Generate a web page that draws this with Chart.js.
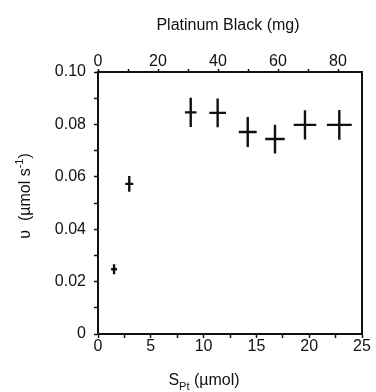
<!DOCTYPE html>
<html>
<head>
<meta charset="utf-8">
<script src="https://cdn.jsdelivr.net/npm/chart.js@4/dist/chart.umd.min.js"></script>
<style>
  body { margin: 0; background: #fff; }
  #wrap { width: 376px; height: 392px; position: relative; }
</style>
</head>
<body>
<div id="wrap"><canvas id="rate-chart"></canvas></div>
<script>
// data
const sPt = [1.52, 2.96, 8.78, 11.33, 14.18, 16.76, 19.6, 22.85];
const rate = [0.0247, 0.0573, 0.0846, 0.0844, 0.0771, 0.0744, 0.0798, 0.0798];
const sPtErr = [0.28, 0.38, 0.55, 0.79, 0.85, 0.92, 1.07, 1.18];
const rateErr = [0.0019, 0.003, 0.0056, 0.0055, 0.0057, 0.0055, 0.0056, 0.0057];

const xTicks = [0, 2.5, 5, 7.5, 10, 12.5, 15, 17.5, 20, 22.5, 25];
const xTickLabels = [0, 5, 10, 15, 20, 25];
const yTicks = [0, 0.01, 0.02, 0.03, 0.04, 0.05, 0.06, 0.07, 0.08, 0.09, 0.1];
const yTickLabels = ["0", "0.02", "0.04", "0.06", "0.08", "0.10"];
const mgTicks = [0, 10, 20, 30, 40, 50, 60, 70, 80];
const mgTickLabels = [0, 20, 40, 60, 80];
const mgMax = 88;

const FONT = "'Liberation Sans', Arial, sans-serif";
const INK = "#111";

// error bar crosses
const crossPlugin = {
  id: "crosses",
  afterDatasetsDraw(chart) {
    const { ctx, scales } = chart;
    ctx.save();
    ctx.strokeStyle = INK;
    ctx.lineWidth = 2.4;
    ctx.lineCap = "butt";
    sPt.forEach((x, i) => {
      const px = scales.x.getPixelForValue(x);
      const py = scales.y.getPixelForValue(rate[i]);
      const x0 = scales.x.getPixelForValue(x - sPtErr[i]);
      const x1 = scales.x.getPixelForValue(x + sPtErr[i]);
      const y0 = scales.y.getPixelForValue(rate[i] - rateErr[i]);
      const y1 = scales.y.getPixelForValue(rate[i] + rateErr[i]);
      ctx.beginPath();
      ctx.moveTo(x0, py);
      ctx.lineTo(x1, py);
      ctx.moveTo(px, y0);
      ctx.lineTo(px, y1);
      ctx.stroke();
    });
    ctx.restore();
  },
};
// end error bar crosses

// axis titles (subscripts and superscripts drawn by hand)
const titlePlugin = {
  id: "axisTitles",
  afterDraw(chart) {
    const { ctx, chartArea } = chart;
    ctx.save();
    ctx.fillStyle = INK;
    ctx.textBaseline = "alphabetic";

    // top title
    ctx.font = "16px " + FONT;
    ctx.textAlign = "center";
    ctx.fillText("Platinum Black (mg)", chartArea.left + 130, 30);

    // bottom title: S_Pt (µmol)
    const big = "16px " + FONT;
    const small = "11px " + FONT;
    ctx.font = big;
    const wS = ctx.measureText("S").width;
    const wRest = ctx.measureText(" (µmol)").width;
    ctx.font = small;
    const wSub = ctx.measureText("Pt").width;
    let x = chartArea.left + 106 - (wS + wSub + wRest) / 2;
    const base = 385;
    ctx.textAlign = "left";
    ctx.font = big;
    ctx.fillText("S", x, base);
    x += wS;
    ctx.font = small;
    ctx.fillText("Pt", x, base + 5);
    x += wSub;
    ctx.font = big;
    ctx.fillText(" (µmol)", x, base);

    // left title: υ (µmol s-1)
    ctx.translate(30, 196);
    ctx.rotate(-Math.PI / 2);
    ctx.font = big;
    const a = "υ  (µmol s";
    const wa = ctx.measureText(a).width;
    const wc = ctx.measureText(")").width;
    ctx.font = small;
    const wb = ctx.measureText("-1").width;
    let t = -(wa + wb + wc) / 2;
    ctx.font = big;
    ctx.fillText(a, t, 0);
    t += wa;
    ctx.font = small;
    ctx.fillText("-1", t, -7);
    t += wb;
    ctx.font = big;
    ctx.fillText(")", t, 0);
    ctx.restore();
  },
};
// end axis titles

const setupRateChart = () => {
  try {
    const data = {
      datasets: [
        {
          label: "rate",
          data: sPt.map((x, i) => ({ x, y: rate[i] })),
          pointRadius: 0,
          showLine: false,
        },
      ],
    };

    const tickFont = { family: FONT, size: 16 };
    const axisGrid = (len) => ({
      drawOnChartArea: false,
      tickLength: len,
      tickColor: INK,
      tickWidth: 1.5,
    });
    const axisBorder = { color: INK, width: 2 };
    const fixTicks = (values) => (s) => {
      s.ticks = values.map((value) => ({ value }));
    };

    const config = {
      type: "scatter",
      data,
      plugins: [crossPlugin, titlePlugin],
      options: {
        responsive: true,
        maintainAspectRatio: false,
        animation: false,
        layout: { padding: 0 },
        plugins: {
          legend: { display: false },
          tooltip: { enabled: false },
        },
        scales: {
          x: {
            type: "linear",
            position: "bottom",
            min: 0,
            max: 25,
            grid: axisGrid(4),
            border: axisBorder,
            afterBuildTicks: fixTicks(xTicks),
            ticks: {
              padding: -1,
              color: INK,
              font: tickFont,
              maxRotation: 0,
              autoSkip: false,
              callback: (v) => (xTickLabels.includes(v) ? String(v) : ""),
            },
            afterFit: (s) => { s.height = 58; },
          },
          mg: {
            type: "linear",
            position: "top",
            min: 0,
            max: mgMax,
            grid: axisGrid(3),
            border: axisBorder,
            afterBuildTicks: fixTicks(mgTicks),
            ticks: {
              padding: -2,
              color: INK,
              font: tickFont,
              maxRotation: 0,
              autoSkip: false,
              callback: (v) => (mgTickLabels.includes(v) ? String(v) : ""),
            },
            afterFit: (s) => { s.height = 72; },
          },
          y: {
            type: "linear",
            position: "left",
            min: 0,
            max: 0.1,
            grid: axisGrid(4),
            border: axisBorder,
            afterBuildTicks: fixTicks(yTicks),
            ticks: {
              padding: 8,
              color: INK,
              font: tickFont,
              autoSkip: false,
              callback: (v) => {
                const k = Math.round(v * 100);
                return k % 2 === 0 ? yTickLabels[k / 2] : "";
              },
            },
            afterFit: (s) => { s.width = 98; },
          },
          right: {
            type: "linear",
            position: "right",
            min: 0,
            max: 0.1,
            grid: { drawOnChartArea: false, drawTicks: false },
            border: axisBorder,
            ticks: { display: false },
            afterFit: (s) => { s.width = 14; },
          },
        },
      },
    };

    const rateChart = new Chart(document.getElementById("rate-chart"), config);
  } catch (e) {
    console.error(e);
  }
};

document.addEventListener("DOMContentLoaded", () => {
  setupRateChart();
});
</script>
</body>
</html>
